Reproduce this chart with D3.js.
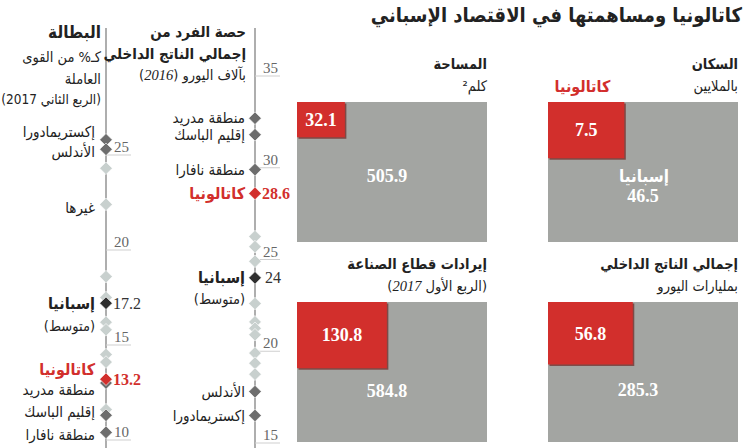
<!DOCTYPE html>
<html><head><meta charset="utf-8">
<script src="https://cdn.jsdelivr.net/npm/d3@7"></script>
<style>
body{margin:0;background:#fff;}
svg{display:block;}
text{font-family:"DejaVu Sans Condensed","DejaVu Sans",sans-serif;}
.num{font-family:"Liberation Serif","DejaVu Serif",serif;}
</style>
</head><body>
<svg id="c" width="750" height="448"></svg>
<script>
// ---------- DATA ----------
const title = "كاتالونيا ومساهمتها في الاقتصاد الإسباني";
const spainName = "إسبانيا";
const cataloniaName = "كاتالونيا";
const avgLabel = "(متوسط)";
const othersLabel = "غيرها";

const unempHeader = ["البطالة", "كـ% من القوى", "العاملة", "(الربع الثاني 2017)"];
const unempTicks = [10, 15, 20, 25];
const unempRegions = ["إكستريمادورا", "الأندلس", "إسبانيا", "كاتالونيا", "منطقة مدريد", "إقليم الباسك", "منطقة نافارا"];
const unempValues = [25.8, 25.3, 17.2, 13.2, 13.0, 11.3, 10.4];
const unempOthers = [24.3, 22.4, 18.6, 17.5, 16.2, 15.8, 14.5, 14.1, 11.6];
const unempOthersLabelValue = 22.4;

const gdpHeader = ["حصة الفرد من", "إجمالي الناتج الداخلي"];
const gdpUnit = ["بآلاف اليورو (", "2016", ")"];
const gdpTicks = [15, 20, 25, 30, 35];
const gdpRegions = ["منطقة مدريد", "إقليم الباسك", "منطقة نافارا", "كاتالونيا", "إسبانيا", "الأندلس", "إكستريمادورا"];
const gdpValues = [32.7, 31.8, 29.9, 28.6, 24.0, 17.8, 16.5];
const gdpOthers = [26.25, 25.7, 24.9, 22.6, 21.6, 21.25, 20.9, 19.9, 19.35, 18.75];

const panelTitles = ["المساحة", "السكان", "إيرادات قطاع الصناعة", "إجمالي الناتج الداخلي"];
const panelSubtitles = [["كلم²"], ["بالملايين"], ["(الربع الأول ", "2017", ")"], ["بمليارات اليورو"]];
const cataloniaValues = [32.1, 7.5, 130.8, 56.8];
const spainValues = [505.9, 46.5, 584.8, 285.3];

// ---------- DRAW ----------
const svg = d3.select("#c");
const RED = "#d22f2c", GRAY = "#a3a5a2", DARK = "#6d6d6d", SPAIN = "#2f2f2f", LIGHT = "#c8d0ce";

function rtl(g, x, y, parts, o = {}) {
  const t = g.append("text").attr("x", x).attr("y", y)
    .attr("direction", "rtl").attr("text-anchor", o.anchor || "start")
    .attr("dy", "0.35em")
    .style("font-size", (o.size || 14) + "px")
    .style("font-weight", o.bold ? "bold" : "normal")
    .style("fill", o.color || "#222");
  if (typeof parts === "string") t.text(parts);
  else parts.forEach((p, i) => t.append("tspan").text(p).style("font-style", (o.italicIdx === i) ? "italic" : null)
      .attr("class", (o.italicIdx === i) ? "num" : null));
  return t;
}

// Title
rtl(svg, 742, 15, title, {size: 20, bold: true, color: "#222"});

const diamond = d3.symbol().type(d3.symbolSquare).size(80);
function colorFor(name) {
  if (name === spainName) return SPAIN;
  if (name === cataloniaName) return RED;
  return DARK;
}

function drawAxis(ax, y, ticks) {
  const g = svg.append("g");
  g.append("line").attr("x1", ax).attr("x2", ax).attr("y1", 28).attr("y2", 448)
    .attr("stroke", "#9a9a9a").attr("stroke-width", 1.6);
  ticks.forEach(t => {
    g.append("line").attr("x1", ax).attr("x2", ax + 25).attr("y1", y(t)).attr("y2", y(t))
      .attr("stroke", "#cfcfcf").attr("stroke-width", 1);
    g.append("text").attr("class", "num").attr("x", ax + 8).attr("y", y(t) - 3)
      .style("font-size", "15px").style("fill", "#666").text(t);
  });
  return g;
}

function drawDiamonds(ax, y, others, names, values) {
  const g = svg.append("g");
  g.selectAll(".o").data(others).join("path")
    .attr("d", diamond).attr("transform", d => `translate(${ax},${y(d)}) rotate(45)`)
    .attr("fill", LIGHT).attr("stroke", "#fff").attr("stroke-width", 0.6);
  const named = names.map((n, i) => ({n, v: values[i]}));
  named.sort((a, b) => (colorFor(a.n) === DARK ? 0 : 1) - (colorFor(b.n) === DARK ? 0 : 1));
  g.selectAll(".n").data(named).join("path")
    .attr("d", diamond).attr("transform", d => `translate(${ax},${y(d.v)}) rotate(45)`)
    .attr("fill", d => colorFor(d.n)).attr("stroke", "#fff").attr("stroke-width", 0.6);
}

// ---- Unemployment column ----
const ax1 = 106;
const yU = d3.scaleLinear().domain([10, 20]).range([440, 250]);
drawAxis(ax1, yU, unempTicks);
drawDiamonds(ax1, yU, unempOthers, unempRegions, unempValues);
unempHeader.forEach((h, i) => rtl(svg, 101, [32, 57, 79, 99][i], h, {size: [17, 14.5, 14.5, 13.5][i], bold: i === 0}));
const nudgeU = {"إكستريمادورا": -8, "الأندلس": 2, "كاتالونيا": -10, "منطقة مدريد": 7, "إقليم الباسك": -4, "منطقة نافارا": 2};
unempRegions.forEach((n, i) => {
  const yy = yU(unempValues[i]) + (nudgeU[n] || 0);
  const isC = n === cataloniaName, isS = n === spainName;
  rtl(svg, 95, yy, n, {size: (isC || isS) ? 16 : 15, bold: isC || isS, color: isC ? RED : "#222"});
  if (isS) rtl(svg, 95, yy + 23, avgLabel, {size: 14.5});
  if (isC || isS) svg.append("text").attr("class", "num").attr("x", ax1 + 7).attr("y", yU(unempValues[i])).attr("dy", "0.35em")
    .style("font-size", "16px").style("font-weight", isC ? "bold" : "normal").style("fill", isC ? RED : "#333")
    .text(unempValues[i].toFixed(1));
});
rtl(svg, 95, yU(unempOthersLabelValue) + 3, othersLabel, {size: 15});

// ---- GDP per capita column ----
const ax2 = 255;
const yG = d3.scaleLinear().domain([15, 35]).range([443, 76]);
drawAxis(ax2, yG, gdpTicks);
drawDiamonds(ax2, yG, gdpOthers, gdpRegions, gdpValues);
gdpHeader.forEach((h, i) => rtl(svg, 246, [32, 54][i], h, {size: 15, bold: true}));
rtl(svg, 246, 75, gdpUnit, {size: 14.5, italicIdx: 1});
gdpRegions.forEach((n, i) => {
  const yy = yG(gdpValues[i]);
  const isC = n === cataloniaName, isS = n === spainName;
  rtl(svg, 245, yy, n, {size: (isC || isS) ? 16 : 15, bold: isC || isS, color: isC ? RED : "#222"});
  if (isS) rtl(svg, 245, yy + 21, avgLabel, {size: 14.5});
  if (isC || isS) svg.append("text").attr("class", "num").attr("x", ax2 + (isS ? 10 : 7)).attr("y", yy).attr("dy", "0.35em")
    .style("font-size", "16px").style("font-weight", isC ? "bold" : "normal").style("fill", isC ? RED : "#333")
    .text(isS ? d3.format("d")(gdpValues[i]) : gdpValues[i].toFixed(1));
});

// ---- Square panels ----
const PW = 190, PH = 140;
const colX = [297, 548], rowY = [102, 302];
const fmt = d3.format(".1f");
panelTitles.forEach((t, i) => {
  const px = colX[i % 2], py = rowY[Math.floor(i / 2)];
  const g = svg.append("g");
  const s = d3.scaleSqrt().domain([0, spainValues[i]]).range([0, 1]);
  const f = s(cataloniaValues[i]);
  const rw = PW * f, rh = PH * f;
  g.append("rect").attr("x", px).attr("y", py).attr("width", PW).attr("height", PH).attr("fill", GRAY);
  g.append("rect").attr("x", px + 1.5).attr("y", py + 1.5).attr("width", rw).attr("height", rh).attr("fill", "#7d4a47");
  g.append("rect").attr("x", px).attr("y", py).attr("width", rw).attr("height", rh).attr("fill", RED);
  g.append("text").attr("class", "num").attr("x", px + rw / 2).attr("y", py + rh / 2).attr("dy", "0.35em")
    .attr("text-anchor", "middle").style("font-size", "18px").style("font-weight", "bold").style("fill", "#fff")
    .text(fmt(cataloniaValues[i]));
  const ly = (py + rh + py + PH) / 2 - 14;
  if (i === 1) {
    rtl(g, px + PW / 2 + 26, ly - 10, spainName, {size: 17, bold: true, color: "#fff"});
    g.append("text").attr("class", "num").attr("x", px + PW / 2).attr("y", ly + 10).attr("dy", "0.35em")
      .attr("text-anchor", "middle").style("font-size", "18px").style("font-weight", "bold").style("fill", "#fff")
      .text(fmt(spainValues[i]));
    rtl(g, px + rw - 14, py - 16, cataloniaName, {size: 16, bold: true, color: RED});
  } else {
    g.append("text").attr("class", "num").attr("x", px + PW / 2 - 5).attr("y", ly).attr("dy", "0.35em")
      .attr("text-anchor", "middle").style("font-size", "18px").style("font-weight", "bold").style("fill", "#fff")
      .text(fmt(spainValues[i]));
  }
  rtl(g, px + PW, py - 38, t, {size: 14.5, bold: true});
  const sub = panelSubtitles[i];
  rtl(g, px + PW, py - 16, sub.length === 1 ? sub[0] : sub, {size: 14.5, italicIdx: sub.length > 1 ? 1 : undefined});
});
</script>
</body></html>
